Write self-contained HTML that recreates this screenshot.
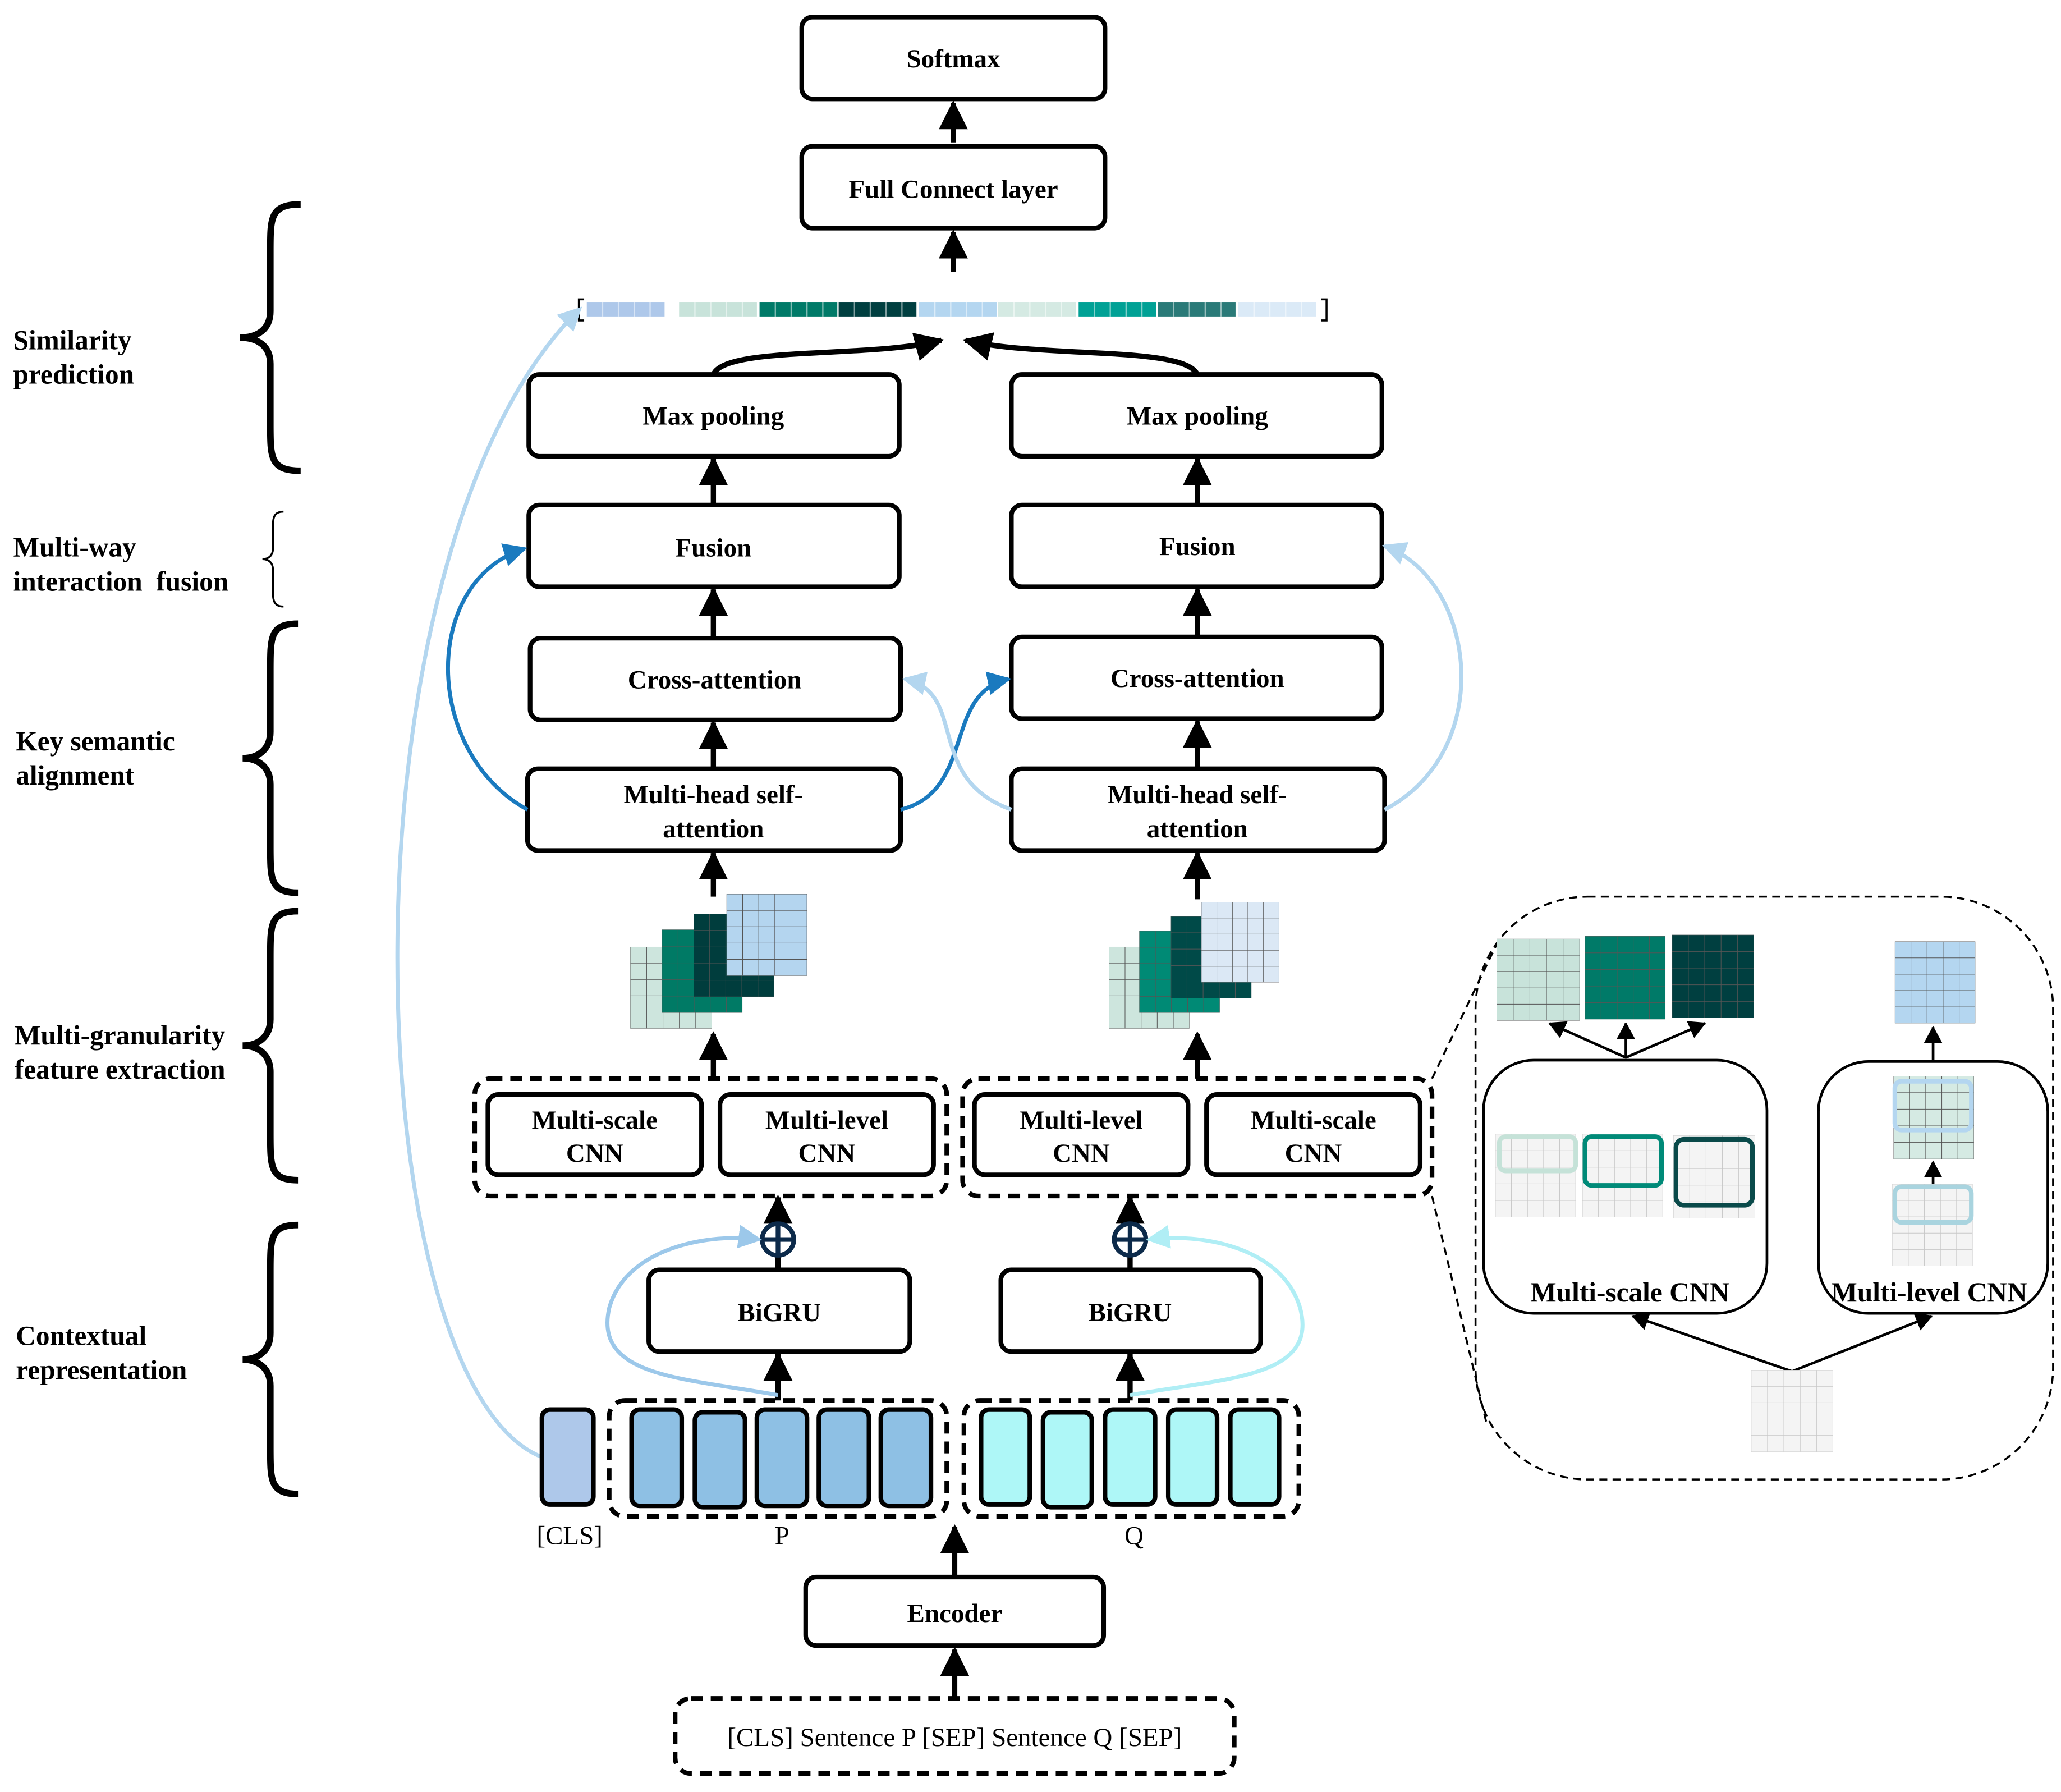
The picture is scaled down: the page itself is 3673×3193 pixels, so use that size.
<!DOCTYPE html>
<html><head><meta charset="utf-8"><style>
html,body{margin:0;padding:0;background:#fff;}
svg{display:block;}
text{font-family:"Liberation Serif",serif;font-weight:bold;fill:#000;}
</style></head><body>
<svg width="3673" height="3193" viewBox="0 0 1563 1359" preserveAspectRatio="none" xmlns="http://www.w3.org/2000/svg">
<defs>
<marker id="ah" markerUnits="userSpaceOnUse" markerWidth="24" markerHeight="22" refX="20" refY="11" orient="auto"><path d="M0,0 L22,11 L0,22 z" fill="#000"/></marker>
<marker id="as" markerUnits="userSpaceOnUse" markerWidth="14" markerHeight="14" refX="12" refY="7" orient="auto"><path d="M0,0 L13,7 L0,14 z" fill="#000"/></marker>
<marker id="ab" markerUnits="userSpaceOnUse" markerWidth="20" markerHeight="18" refX="16" refY="9" orient="auto"><path d="M0,0 L18,9 L0,18 z" fill="#1a7abf"/></marker>
<marker id="alb" markerUnits="userSpaceOnUse" markerWidth="20" markerHeight="18" refX="16" refY="9" orient="auto"><path d="M0,0 L18,9 L0,18 z" fill="#b3d6ef"/></marker>
<marker id="alc" markerUnits="userSpaceOnUse" markerWidth="20" markerHeight="18" refX="16" refY="9" orient="auto"><path d="M0,0 L18,9 L0,18 z" fill="#b0eef5"/></marker>
<marker id="am" markerUnits="userSpaceOnUse" markerWidth="20" markerHeight="18" refX="16" refY="9" orient="auto"><path d="M0,0 L18,9 L0,18 z" fill="#9cc8ea"/></marker>
<symbol id="g" viewBox="0 0 5 5" preserveAspectRatio="none"><g stroke="#555" stroke-width="1" fill="none">
<path d="M1,0V5M2,0V5M3,0V5M4,0V5M0,1H5M0,2H5M0,3H5M0,4H5M0,0H5V5H0Z" vector-effect="non-scaling-stroke"/></g></symbol>
<symbol id="gl" viewBox="0 0 5 5" preserveAspectRatio="none"><g stroke="#c8c8c8" stroke-width="1" fill="none">
<path d="M1,0V5M2,0V5M3,0V5M4,0V5M0,1H5M0,2H5M0,3H5M0,4H5M0,0H5V5H0Z" vector-effect="non-scaling-stroke"/></g></symbol>
</defs>

<g fill="#fff" stroke="#000" stroke-width="3.5">
<rect x="608" y="13" width="230" height="62" rx="8"/>
<rect x="608" y="111" width="230" height="62" rx="8"/>
<rect x="401" y="284" width="281" height="62" rx="8"/>
<rect x="767" y="284" width="281" height="62" rx="8"/>
<rect x="401" y="383" width="281" height="62" rx="8"/>
<rect x="767" y="383" width="281" height="62" rx="8"/>
<rect x="402" y="484" width="281" height="62" rx="8"/>
<rect x="767" y="483" width="281" height="62" rx="8"/>
<rect x="400" y="583" width="283" height="62" rx="8"/>
<rect x="767" y="583" width="283" height="62" rx="8"/>
<rect x="370" y="830" width="162" height="61" rx="8"/>
<rect x="546" y="830" width="162" height="61" rx="8"/>
<rect x="739" y="830" width="162" height="61" rx="8"/>
<rect x="915" y="830" width="162" height="61" rx="8"/>
<rect x="492" y="963" width="198" height="62" rx="8"/>
<rect x="759" y="963" width="197" height="62" rx="8"/>
<rect x="611" y="1196" width="226" height="52" rx="8"/>
</g>
<g fill="none" stroke="#000" stroke-width="3.5" stroke-dasharray="9,6">
<rect x="360" y="818" width="358" height="89" rx="12"/>
<rect x="730" y="818" width="356" height="89" rx="12"/>
<rect x="462" y="1062" width="256" height="88" rx="12"/>
<rect x="731" y="1062" width="254" height="88" rx="12"/>
<rect x="512" y="1288" width="424" height="57" rx="12"/>
</g>

<g font-size="20" text-anchor="middle">
<text x="723" y="51">Softmax</text>
<text x="723" y="150">Full Connect layer</text>
<text x="541" y="322">Max pooling</text>
<text x="908" y="322">Max pooling</text>
<text x="541" y="422">Fusion</text>
<text x="908" y="421">Fusion</text>
<text x="542" y="522">Cross-attention</text>
<text x="908" y="521">Cross-attention</text>
<text x="541" y="609">Multi-head self-</text><text x="541" y="635">attention</text>
<text x="908" y="609">Multi-head self-</text><text x="908" y="635">attention</text>
<text x="451" y="856">Multi-scale</text><text x="451" y="881">CNN</text>
<text x="627" y="856">Multi-level</text><text x="627" y="881">CNN</text>
<text x="820" y="856">Multi-level</text><text x="820" y="881">CNN</text>
<text x="996" y="856">Multi-scale</text><text x="996" y="881">CNN</text>
<text x="591" y="1002">BiGRU</text>
<text x="857" y="1002">BiGRU</text>
<text x="724" y="1230">Encoder</text>
</g>
<g font-size="20" text-anchor="middle">
<text x="724" y="1324" style="font-weight:normal">[CLS] Sentence P [SEP] Sentence Q [SEP]</text>
<text x="432" y="1171" style="font-weight:normal">[CLS]</text>
<text x="593" y="1171" style="font-weight:normal">P</text>
<text x="860" y="1171" style="font-weight:normal">Q</text>
</g>
<g font-size="21">
<text x="10" y="265">Similarity</text><text x="10" y="291">prediction</text>
<text x="10" y="422">Multi-way</text><text x="10" y="448" xml:space="preserve">interaction  fusion</text>
<text x="12" y="569">Key semantic</text><text x="12" y="595">alignment</text>
<text x="11" y="792">Multi-granularity</text><text x="11" y="818">feature extraction</text>
<text x="12" y="1020">Contextual</text><text x="12" y="1046">representation</text>
</g>

<g fill="none" stroke="#000" stroke-width="5">
<path d="M228,155 C205,155 205,165 205,190 L205,236 C205,250 195,256 182,256 C195,256 205,262 205,276 L205,322 C205,347 205,357 228,357"/>
<path d="M226,473 C205,473 205,483 205,508 L205,555 C205,569 195,575 184,575 C195,575 205,581 205,595 L205,642 C205,667 205,677 226,677"/>
<path d="M226,691 C205,691 205,701 205,726 L205,773 C205,787 195,793 184,793 C195,793 205,799 205,813 L205,860 C205,885 205,895 226,895"/>
<path d="M226,929 C205,929 205,939 205,964 L205,1011 C205,1025 195,1031 184,1031 C195,1031 205,1037 205,1051 L205,1098 C205,1123 205,1133 226,1133"/>
</g>
<path d="M215,388 C206,388 207,395 207,405 L207,416 C207,421 204,424 199,424 C204,424 207,427 207,432 L207,443 C207,453 206,460 215,460" fill="none" stroke="#000" stroke-width="1.5"/>

<g>
<path d="M443,227 H439 V243 H443 M1002,227 H1006 V243 H1002" fill="none" stroke="#000" stroke-width="1.5"/>
<rect x="445" y="229" width="59" height="11" fill="#aec8ea"/>
<rect x="515" y="229" width="59" height="11" fill="#c8e3da"/>
<rect x="576" y="229" width="59" height="11" fill="#007a68"/>
<rect x="636" y="229" width="59" height="11" fill="#003f40"/>
<rect x="697" y="229" width="59" height="11" fill="#b4d6f0"/>
<rect x="757" y="229" width="59" height="11" fill="#d5eae3"/>
<rect x="818" y="229" width="59" height="11" fill="#00a195"/>
<rect x="878" y="229" width="59" height="11" fill="#2a7a78"/>
<rect x="939" y="229" width="59" height="11" fill="#dbeaf7"/>
<path d="M457,229V240M469,229V240M481,229V240M493,229V240M527,229V240M539,229V240M551,229V240M563,229V240M588,229V240M600,229V240M612,229V240M624,229V240M648,229V240M660,229V240M672,229V240M684,229V240M709,229V240M721,229V240M733,229V240M745,229V240M769,229V240M781,229V240M793,229V240M805,229V240M830,229V240M842,229V240M854,229V240M866,229V240M890,229V240M902,229V240M914,229V240M926,229V240M951,229V240M963,229V240M975,229V240M987,229V240" stroke="#fff" stroke-opacity="0.5" stroke-width="1"/>
</g>

<g stroke="#000" stroke-width="4" fill="none" marker-end="url(#ah)">
<path d="M723,108 V78"/><path d="M723,206 V176"/>
<path d="M541,383 V348"/><path d="M908,383 V348"/>
<path d="M541,484 V447"/><path d="M908,483 V447"/>
<path d="M541,583 V548"/><path d="M908,583 V547"/>
<path d="M541,680 V647"/><path d="M908,682 V647"/>
<path d="M541,818 V784"/><path d="M908,818 V784"/>
<path d="M590,928 V908"/><path d="M857,928 V908"/>
<path d="M590,1062 V1027"/><path d="M857,1062 V1027"/>
<path d="M724,1196 V1158"/><path d="M724,1288 V1251"/>
<path d="M541,284 C550,262 660,272 714,258"/>
<path d="M908,284 C898,262 790,272 732,258"/>
</g>
<path d="M590,963 V952 M857,963 V952" stroke="#000" stroke-width="4"/>
<g fill="#fff" stroke="#0c2a4a" stroke-width="3.5">
<circle cx="590" cy="940" r="12"/><circle cx="857" cy="940" r="12"/>
</g>
<path d="M578,940H602M590,928V952M845,940H869M857,928V952" stroke="#0c2a4a" stroke-width="3.5"/>

<g fill="none" stroke-width="3">
<path d="M400,614 C320,570 320,440 398,416" stroke="#1a7abf" marker-end="url(#ab)"/>
<path d="M683,614 C740,600 715,525 765,515" stroke="#1a7abf" marker-end="url(#ab)"/>
<path d="M767,614 C700,590 735,525 686,515" stroke="#b3d6ef" marker-end="url(#alb)"/>
<path d="M1050,614 C1135,570 1120,440 1050,414" stroke="#b3d6ef" marker-end="url(#alb)"/>
<path d="M411,1105 C270,1050 250,420 440,234" stroke="#b3d6ef" marker-end="url(#alb)"/>
<path d="M590,1058 C520,1045 450,1045 462,992 C475,945 540,935 576,940" stroke="#9cc8ea" marker-end="url(#am)"/>
<path d="M857,1058 C930,1045 1000,1045 986,992 C972,945 910,935 871,940" stroke="#b0eef5" marker-end="url(#alc)"/>
</g>

<g stroke="#000" stroke-width="3.5">
<rect x="411" y="1069" width="39" height="72" rx="6" fill="#aec8ea"/>
<rect x="479" y="1069" width="38" height="73" rx="6" fill="#8ec0e4"/>
<rect x="527" y="1071" width="38" height="72" rx="6" fill="#8ec0e4"/>
<rect x="574" y="1069" width="38" height="73" rx="6" fill="#8ec0e4"/>
<rect x="621" y="1069" width="38" height="73" rx="6" fill="#8ec0e4"/>
<rect x="668" y="1069" width="38" height="73" rx="6" fill="#8ec0e4"/>
<rect x="744" y="1069" width="37" height="72" rx="6" fill="#aef7f7"/>
<rect x="791" y="1071" width="37" height="72" rx="6" fill="#aef7f7"/>
<rect x="838" y="1069" width="38" height="72" rx="6" fill="#aef7f7"/>
<rect x="886" y="1069" width="37" height="72" rx="6" fill="#aef7f7"/>
<rect x="933" y="1069" width="37" height="72" rx="6" fill="#aef7f7"/>
</g>

<rect x="478" y="718" width="62" height="62" fill="#cde5dd"/><use href="#g" x="478" y="718" width="62" height="62"/>
<rect x="502" y="705" width="61" height="63" fill="#007a65"/><use href="#g" x="502" y="705" width="61" height="63"/>
<rect x="526" y="693" width="61" height="63" fill="#003d3d"/><use href="#g" x="526" y="693" width="61" height="63"/>
<rect x="551" y="678" width="61" height="62" fill="#b4d5ef"/><use href="#g" x="551" y="678" width="61" height="62"/>
<rect x="841" y="718" width="61" height="62" fill="#cde5dd"/><use href="#g" x="841" y="718" width="61" height="62"/>
<rect x="864" y="706" width="61" height="62" fill="#008a75"/><use href="#g" x="864" y="706" width="61" height="62"/>
<rect x="888" y="695" width="61" height="62" fill="#004a48"/><use href="#g" x="888" y="695" width="61" height="62"/>
<rect x="911" y="684" width="59" height="61" fill="#dbe8f5"/><use href="#g" x="911" y="684" width="59" height="61"/>

<g fill="none" stroke="#000" stroke-width="1.5" stroke-dasharray="6,4">
<rect x="1119" y="680" width="438" height="442" rx="85"/>
<path d="M1086,818 L1137,712 M1086,907 L1127,1078"/>
</g>
<g fill="#fff" stroke="#000" stroke-width="2">
<rect x="1125" y="804" width="215" height="192" rx="38"/>
<rect x="1379" y="805" width="174" height="191" rx="38"/>
</g>
<rect x="1135" y="712" width="63" height="62" fill="#c8e3da"/><use href="#g" x="1135" y="712" width="63" height="62"/>
<rect x="1202" y="710" width="61" height="63" fill="#007a68"/><use href="#g" x="1202" y="710" width="61" height="63"/>
<rect x="1268" y="709" width="62" height="63" fill="#003f40"/><use href="#g" x="1268" y="709" width="62" height="63"/>
<rect x="1437" y="714" width="61" height="62" fill="#b4d6f0"/><use href="#g" x="1437" y="714" width="61" height="62"/>
<g stroke="#000" stroke-width="2" fill="none" marker-end="url(#as)">
<path d="M1233,802 L1175,776"/><path d="M1233,802 V776"/><path d="M1233,802 L1293,776"/>
<path d="M1466,805 V779"/><path d="M1466,898 V881"/>
<path d="M1359,1040 L1238,998"/><path d="M1359,1040 L1465,998"/>
</g>
<rect x="1134" y="860" width="61" height="63" fill="#f4f4f4"/><use href="#gl" x="1134" y="860" width="61" height="63"/>
<rect x="1200" y="860" width="61" height="63" fill="#f4f4f4"/><use href="#gl" x="1200" y="860" width="61" height="63"/>
<rect x="1269" y="861" width="62" height="63" fill="#f4f4f4"/><use href="#gl" x="1269" y="861" width="62" height="63"/>
<rect x="1436" y="816" width="61" height="63" fill="#d5eae3"/><use href="#g" x="1436" y="816" width="61" height="63"/>
<rect x="1435" y="898" width="61" height="62" fill="#f4f4f4"/><use href="#gl" x="1435" y="898" width="61" height="62"/>
<rect x="1328" y="1039" width="62" height="62" fill="#f4f4f4"/><use href="#gl" x="1328" y="1039" width="62" height="62"/>
<g fill="none" stroke-width="3.5">
<rect x="1137" y="862" width="58" height="26" rx="5" stroke="#c5e2d8"/>
<rect x="1202" y="862" width="58" height="37" rx="5" stroke="#008a78"/>
<rect x="1271" y="864" width="58" height="50" rx="6" stroke="#0a4a4a"/>
<rect x="1437" y="820" width="58" height="37" rx="5" stroke="#b4d6f0"/>
<rect x="1437" y="900" width="58" height="27" rx="5" stroke="#a9d4df"/>
</g>
<g font-size="21" text-anchor="middle">
<text x="1236" y="987">Multi-scale CNN</text>
<text x="1463" y="987">Multi-level CNN</text>
</g>
</svg>
</body></html>
